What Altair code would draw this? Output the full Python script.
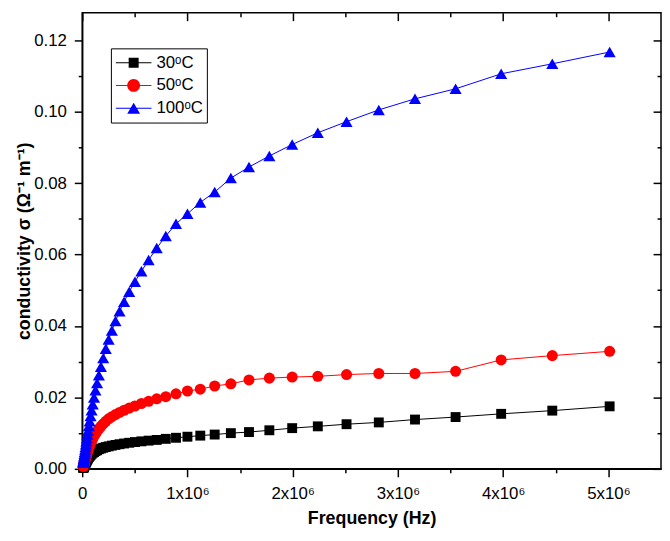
import altair as alt
import pandas as pd

# ---------------- data ----------------
freq = [10000, 11220, 12589, 14125, 15849, 17783, 19953, 22387, 25119, 28184,
        31623, 35481, 39811, 44668, 50119, 56234, 63096, 70795, 79433, 89125,
        100000, 112202, 125893, 141254, 158489, 177828, 199526, 223872, 251189, 281838,
        316228, 354813, 398107, 446684, 501187, 562341, 630957, 707946, 794328, 891251,
        1000000, 1122018, 1258925, 1412538, 1584893, 1778279, 1995262, 2238721, 2511886, 2818383,
        3162278, 3548134, 3981072, 4466836, 5011872]

sigma_30 = [0.0003, 0.0003, 0.0004, 0.0005, 0.0006, 0.0007, 0.0008, 0.0010, 0.0012, 0.0014,
            0.0016, 0.0019, 0.0021, 0.0024, 0.0027, 0.0030, 0.0033, 0.0036, 0.0039, 0.0042,
            0.0045, 0.0047, 0.0050, 0.0052, 0.0055, 0.0057, 0.0059, 0.0061, 0.0063, 0.0065,
            0.0067, 0.0069, 0.0071, 0.0073, 0.0075, 0.0077, 0.0079, 0.0081, 0.0084, 0.0087,
            0.0090, 0.0093, 0.0096, 0.0100, 0.0103, 0.0108, 0.0114, 0.0119, 0.0125, 0.0130,
            0.0138, 0.0145, 0.0154, 0.0163, 0.0175]

sigma_50 = [0.0007, 0.0008, 0.0009, 0.0010, 0.0012, 0.0014, 0.0016, 0.0019, 0.0022, 0.0025,
            0.0029, 0.0033, 0.0037, 0.0042, 0.0047, 0.0053, 0.0059, 0.0065, 0.0072, 0.0078,
            0.0084, 0.0091, 0.0098, 0.0105, 0.0112, 0.0119, 0.0126, 0.0133, 0.0140, 0.0146,
            0.0152, 0.0158, 0.0164, 0.0170, 0.0176, 0.0183, 0.0189, 0.0196, 0.0202, 0.0210,
            0.0218, 0.0223, 0.0232, 0.0238, 0.0249, 0.0254, 0.0257, 0.0259, 0.0264, 0.0267,
            0.0267, 0.0273, 0.0305, 0.0317, 0.0329]

sigma_100 = [0.0017, 0.0019, 0.0022, 0.0025, 0.0029, 0.0033, 0.0037, 0.0042, 0.0048, 0.0054,
             0.0061, 0.0069, 0.0077, 0.0086, 0.0096, 0.0107, 0.0120, 0.0133, 0.0148, 0.0164,
             0.0181, 0.0200, 0.0220, 0.0240, 0.0262, 0.0286, 0.0310, 0.0336, 0.0362, 0.0387,
             0.0414, 0.0441, 0.0468, 0.0496, 0.0524, 0.0553, 0.0585, 0.0618, 0.0652, 0.0686,
             0.0714, 0.0746, 0.0775, 0.0814, 0.0845, 0.0876, 0.0908, 0.0941, 0.0972, 0.1005,
             0.1036, 0.1064, 0.1106, 0.1134, 0.1167]

series_names = ["30ᵒC", "50ᵒC", "100ᵒC"]
series_colors = ["#000000", "#FF0000", "#0000FF"]
series_shapes = ["square", "circle", "triangle-up"]
series_sizes = [100, 150, 169]

x_major = [0, 1000000, 2000000, 3000000, 4000000, 5000000]
x_minor = [500000, 1500000, 2500000, 3500000, 4500000]
y_major = [0.0, 0.02, 0.04, 0.06, 0.08, 0.10, 0.12]
y_minor = [0.01, 0.03, 0.05, 0.07, 0.09, 0.11]

rows = []
for name, vals in zip(series_names, [sigma_30, sigma_50, sigma_100]):
    for f, v in zip(freq, vals):
        rows.append({"f": f, "v": v, "series": name})
df = pd.DataFrame(rows)

# ---------------- styling ----------------
W, H = 585, 461
FONT = "Liberation Sans"

xs = alt.Scale(domain=[0, 5500000], nice=False, zero=False)
ys = alt.Scale(domain=[0, 0.1277], nice=False, zero=False)
cs = alt.Scale(domain=series_names, range=series_colors)

common = dict(grid=False, tickColor="black", tickWidth=1.5, domainColor="black",
              domainWidth=1.5, labelColor="black", labelFont=FONT, labelFontSize=17,
              titleFont=FONT, titleColor="black", labelFlush=False, labelOverlap=False)


def bare_axis(orient, values, size, offset=0):
    return alt.Axis(orient=orient, values=values, tickSize=size, labels=False,
                    domain=False, title=None, offset=offset, grid=False,
                    tickColor="black", tickWidth=1.5)


x_axis_main = alt.Axis(orient="bottom", values=x_major, tickSize=8, labelPadding=9,
                       labelExpr="datum.value == 0 ? '0' : format(datum.value / 1000000, 'd') + 'x10⁶'",
                       title="Frequency (Hz)", titleFontSize=18, titleFontWeight="bold",
                       titlePadding=8, **common)
y_axis_main = alt.Axis(orient="left", values=y_major, tickSize=8, labelPadding=8,
                       format=".2f", title="conductivity σ (Ω⁻¹ m⁻¹)", titleFontSize=18,
                       titleFontWeight="bold", titlePadding=0, **common)

lines = alt.Chart(df).mark_line(strokeWidth=1).encode(
    x=alt.X("f:Q", scale=xs, axis=x_axis_main),
    y=alt.Y("v:Q", scale=ys, axis=y_axis_main),
    color=alt.Color("series:N", scale=cs, legend=None),
)

points = alt.Chart(df).mark_point(filled=True, opacity=1).encode(
    x=alt.X("f:Q", scale=xs, axis=None),
    y=alt.Y("v:Q", scale=ys, axis=None),
    color=alt.Color("series:N", scale=cs, legend=None),
    shape=alt.Shape("series:N", scale=alt.Scale(domain=series_names, range=series_shapes), legend=None),
    size=alt.Size("series:N", scale=alt.Scale(domain=series_names, range=series_sizes), legend=None),
)

minor_bl = alt.Chart(df).mark_point(opacity=0).encode(
    x=alt.X("f:Q", scale=xs, axis=bare_axis("bottom", x_minor, 4)),
    y=alt.Y("v:Q", scale=ys, axis=bare_axis("left", y_minor, 4)),
)
major_tr = alt.Chart(df).mark_point(opacity=0).encode(
    x=alt.X("f:Q", scale=xs, axis=bare_axis("bottom", x_major, 8, -H)),
    y=alt.Y("v:Q", scale=ys, axis=bare_axis("left", y_major, 8, -W)),
)
minor_tr = alt.Chart(df).mark_point(opacity=0).encode(
    x=alt.X("f:Q", scale=xs, axis=bare_axis("bottom", x_minor, 4, -H)),
    y=alt.Y("v:Q", scale=ys, axis=bare_axis("left", y_minor, 4, -W)),
)

# legend symbols: a short line with the marker on it (unit = 18 px)
legend_paths = [
    "M-1,-0.03H1V0.03H-1Z M-0.28,-0.28H0.28V0.28H-0.28Z",
    "M-1,-0.03H-0.3V0.03H-1Z M0.3,-0.03H1V0.03H0.3Z M-0.36,0A0.36,0.36,0,1,1,0.36,0A0.36,0.36,0,1,1,-0.36,0Z",
    "M-1,-0.03H1V0.03H-1Z M0,-0.31L0.36,0.31H-0.36Z",
]
legend = alt.Legend(title=None, orient="none", legendX=29, legendY=36, symbolSize=1296,
                    symbolStrokeWidth=0, clipHeight=23, rowPadding=0, padding=3,
                    labelFont=FONT, labelFontSize=17, labelColor="black", labelOffset=5,
                    symbolOffset=2, strokeColor="black", fillColor="white")

legend_layer = alt.Chart(df).transform_filter("false").mark_point(filled=True, opacity=1).encode(
    x=alt.X("f:Q", scale=xs, axis=None),
    y=alt.Y("v:Q", scale=ys, axis=None),
    color=alt.Color("series:N", scale=cs, legend=legend),
    shape=alt.Shape("series:N", scale=alt.Scale(domain=series_names, range=legend_paths), legend=legend),
)

chart = (
    alt.layer(lines, points, minor_bl, major_tr, minor_tr, legend_layer)
    .resolve_scale(shape="independent", color="independent")
    .resolve_axis(x="independent", y="independent")
    .properties(width=W, height=H, autosize=alt.AutoSizeParams(type="none"),
                padding={"left": 75, "top": 2, "right": 1, "bottom": 57})
    .configure(font=FONT)
    .configure_view(stroke="black", strokeWidth=1.5)
)

chart.save("out.html", embed_options={"renderer": "svg", "actions": False})
